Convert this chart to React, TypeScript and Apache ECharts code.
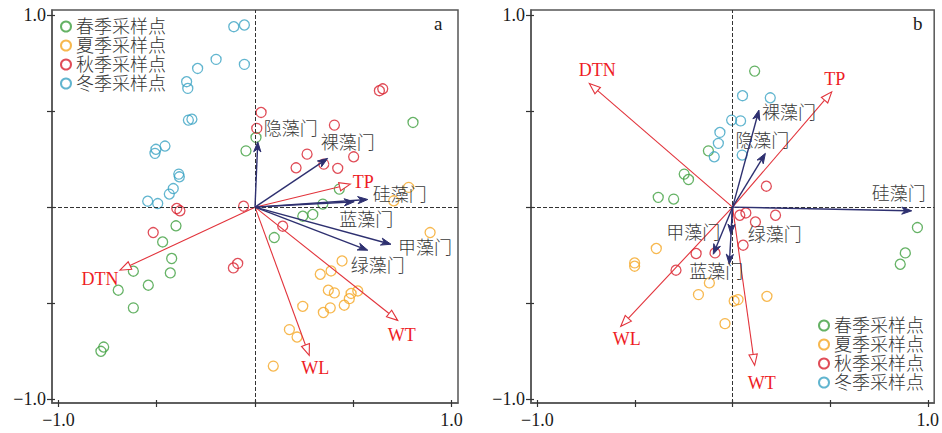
import React, { useEffect, useRef } from "react";
import * as echarts from "echarts";

const seasons = ["春季采样点", "夏季采样点", "秋季采样点", "冬季采样点"];
const seasonColors = ["#3f9f3f", "#f5a623", "#d8202e", "#3aa3c3"];

// Panel a sample scores
const springA = [
  [0.005, 0.363], [-0.046, 0.293], [0.429, 0.094], [0.345, 0.016], [0.804, 0.441],
  [0.243, -0.047], [0.294, -0.038], [0.098, -0.158], [-0.402, -0.097], [-0.47, -0.181],
  [-0.424, -0.267], [-0.431, -0.342], [-0.619, -0.333], [-0.543, -0.406], [-0.696, -0.432],
  [-0.619, -0.524], [-0.77, -0.728], [-0.784, -0.75],
];
const summerA = [
  [0.782, 0.103], [0.706, 0.033], [0.891, -0.132], [0.443, -0.28], [0.332, -0.349],
  [0.387, -0.332], [0.373, -0.432], [0.404, -0.446], [0.489, -0.449], [0.523, -0.436],
  [0.48, -0.476], [0.454, -0.51], [0.383, -0.524], [0.348, -0.548], [0.243, -0.516],
  [0.175, -0.637], [0.214, -0.676], [0.093, -0.827],
];
const autumnA = [
  [-0.398, -0.007], [-0.382, -0.019], [-0.518, -0.132], [-0.11, -0.316], [-0.088, -0.293],
  [0.031, 0.493], [0.009, 0.41], [-0.058, 0.005], [0.404, 0.427], [0.265, 0.276],
  [0.35, 0.224], [0.209, 0.205], [0.421, 0.202], [0.502, 0.262], [0.633, 0.606],
  [0.65, 0.616], [0.141, -0.099],
];
const winterA = [
  [-0.108, 0.939], [-0.054, 0.948], [-0.054, 0.743], [-0.198, 0.769], [-0.292, 0.722],
  [-0.348, 0.653], [-0.342, 0.618], [-0.339, 0.453], [-0.321, 0.458], [-0.509, 0.28],
  [-0.504, 0.301], [-0.458, 0.318], [-0.388, 0.172], [-0.385, 0.158], [-0.416, 0.097],
  [-0.436, 0.068], [-0.546, 0.031], [-0.495, 0.019],
];

// Panel b sample scores
const springB = [
  [0.113, 0.708], [-0.124, 0.293], [-0.248, 0.172], [-0.226, 0.144], [-0.381, 0.051],
  [-0.302, 0.042], [0.947, -0.106], [0.885, -0.238], [0.859, -0.297],
];
const summerB = [
  [-0.391, -0.215], [-0.502, -0.29], [-0.502, -0.307], [-0.119, -0.394], [-0.175, -0.455],
  [0.008, -0.488], [0.028, -0.481], [0.176, -0.464], [-0.039, -0.606],
];
const autumnB = [
  [0.173, 0.109], [0.037, -0.042], [0.068, -0.03], [0.22, -0.042], [0.117, -0.077],
  [0.054, -0.198], [-0.09, -0.238], [-0.187, -0.241], [-0.29, -0.328],
];
const winterB = [
  [0.051, 0.58], [0.193, 0.569], [-0.005, 0.453], [0.041, 0.449], [-0.065, 0.389],
  [-0.073, 0.332], [-0.094, 0.262], [0.049, 0.271],
];

// Species (phyla) arrows
const speciesNames = ["隐藻门", "裸藻门", "硅藻门", "蓝藻门", "甲藻门", "绿藻门"];
const speciesA = [[0.014, 0.34], [0.37, 0.254], [0.574, 0.04], [0.505, 0.028], [0.692, -0.193], [0.574, -0.224]];
const speciesB = [[0.168, 0.28], [0.135, 0.505], [0.918, -0.019], [-0.017, -0.297], [-0.099, -0.245], [-0.009, -0.141]];

// Environmental arrows
const envNames = ["TP", "DTN", "WL", "WT"];
const envA = [[0.485, 0.12], [-0.687, -0.328], [0.276, -0.771], [0.726, -0.589]];
const envB = [[0.508, 0.6], [-0.734, 0.644], [-0.573, -0.62], [0.113, -0.823]];

// Label pixel offsets from arrow tips (layout only)
const speciesOffA = [[33, -13], [20, -15], [32, -4], [12, 18], [34, 4], [10, 16]];
const speciesOffB = [[-3, -12], [30, 3], [-13, -17], [-13, 8], [-20, -21], [44, 1]];
const envOffA = [[13, -2], [-20, 9], [6, 13], [4, 15]];
const envOffB = [[3, -13], [8, -13], [6, 13], [7, 18]];

const tickVals = [-1, -0.5, 0, 0.5, 1];
const labelVals = [-1, 1];

const SERIF = "'Liberation Serif', 'Times New Roman', serif";
const CJK = "'Liberation Serif', 'Noto Sans CJK SC', serif";
const NAVY = "#2e3070";
const ARROW_RED = "#e2333b";
const TEXT_RED = "#ee1c25";

function fmt(v: number) {
  return v < 0 ? "\u2212" + Math.abs(v).toFixed(1) : v.toFixed(1);
}

function arrowRenderer(names: string[], offsets: number[][], kind: "sp" | "env") {
  return (params: any, api: any) => {
    const i = params.dataIndex;
    const o = api.coord([0, 0]);
    const t = api.coord([api.value(0), api.value(1)]);
    const dx = t[0] - o[0];
    const dy = t[1] - o[1];
    const L = Math.hypot(dx, dy) || 1;
    const ux = dx / L;
    const uy = dy / L;
    const hl = kind === "sp" ? 10 : 11;
    const hw = kind === "sp" ? 3.6 : 4.2;
    const bx = t[0] - ux * hl;
    const by = t[1] - uy * hl;
    const px = -uy;
    const py = ux;
    const color = kind === "sp" ? NAVY : ARROW_RED;
    const off = offsets[i] || [0, 0];
    return {
      type: "group",
      children: [
        {
          type: "line",
          shape: { x1: o[0], y1: o[1], x2: kind === "sp" ? t[0] - ux * 4 : bx, y2: kind === "sp" ? t[1] - uy * 4 : by },
          style: { stroke: color, lineWidth: kind === "sp" ? 1.4 : 1.1 },
        },
        {
          type: "polygon",
          shape: {
            points: [
              [t[0], t[1]],
              [bx + px * hw, by + py * hw],
              kind === "sp" ? [t[0] - ux * hl * 0.7, t[1] - uy * hl * 0.7] : [bx, by],
              [bx - px * hw, by - py * hw],
            ],
          },
          style: kind === "sp"
            ? { fill: color, stroke: color, lineWidth: 1 }
            : { fill: "#fff", stroke: color, lineWidth: 1.1 },
        },
        {
          type: "text",
          style: {
            text: names[i],
            x: t[0] + off[0],
            y: t[1] + off[1],
            align: "center",
            verticalAlign: "middle",
            fill: kind === "sp" ? "#3a3a3a" : TEXT_RED,
            fontSize: 18,
            fontFamily: CJK,
            fontWeight: kind === "sp" ? 300 : "normal",
          },
        },
      ],
    };
  };
}

function mainX(gridIndex: number) {
  return {
    gridIndex,
    type: "value",
    min: -1.033,
    max: 1.033,
    position: "bottom",
    axisLine: { show: true, onZero: false, lineStyle: { color: "#555", width: 1.5 } },
    axisTick: { show: true, length: 4, lineStyle: { color: "#333", width: 1.2 }, customValues: tickVals },
    axisLabel: {
      show: true,
      customValues: labelVals,
      formatter: fmt,
      fontFamily: SERIF,
      fontSize: 18,
      color: "#1a1a1a",
      margin: 8,
    },
    splitLine: { show: false },
  };
}
function innerX(gridIndex: number) {
  return {
    gridIndex,
    type: "value",
    min: -1.033,
    max: 1.033,
    position: "bottom",
    axisLine: { show: false, onZero: false },
    axisTick: { show: true, inside: true, length: 3, lineStyle: { color: "#333", width: 1.2 }, customValues: tickVals },
    axisLabel: { show: false },
    splitLine: { show: false },
  };
}
function mainY(gridIndex: number) {
  return {
    gridIndex,
    type: "value",
    min: -1.019,
    max: 1.026,
    position: "left",
    axisLine: { show: true, onZero: false, lineStyle: { color: "#555", width: 1.5 } },
    axisTick: { show: true, length: 5, lineStyle: { color: "#333", width: 1.2 }, customValues: tickVals },
    axisLabel: {
      show: true,
      customValues: labelVals,
      formatter: fmt,
      fontFamily: SERIF,
      fontSize: 18,
      color: "#1a1a1a",
      margin: 6,
    },
    splitLine: { show: false },
  };
}
function innerY(gridIndex: number) {
  return {
    gridIndex,
    type: "value",
    min: -1.019,
    max: 1.026,
    position: "left",
    axisLine: { show: false, onZero: false },
    axisTick: { show: true, inside: true, length: 3, lineStyle: { color: "#333", width: 1.2 }, customValues: tickVals },
    axisLabel: { show: false },
    splitLine: { show: false },
  };
}

function scatterSeries(data: number[][], si: number, axis: number) {
  return {
    type: "scatter",
    name: seasons[si],
    xAxisIndex: axis,
    yAxisIndex: axis,
    data,
    symbol: "circle",
    symbolSize: 10,
    itemStyle: { color: "rgba(0,0,0,0)", borderColor: seasonColors[si], borderWidth: 1.3 },
    z: 3,
  };
}

function zeroLines(axis: number) {
  return {
    type: "scatter",
    xAxisIndex: axis,
    yAxisIndex: axis,
    data: [],
    silent: true,
    z: 1,
    markLine: {
      silent: true,
      symbol: ["none", "none"],
      label: { show: false },
      lineStyle: { type: [4, 2], color: "#333", width: 1 },
      data: [{ xAxis: 0 }, { yAxis: 0 }],
    },
  };
}

function arrowSeries(data: number[][], names: string[], offs: number[][], kind: "sp" | "env", axis: number) {
  return {
    type: "custom",
    xAxisIndex: axis,
    yAxisIndex: axis,
    data,
    clip: false,
    silent: true,
    z: kind === "sp" ? 5 : 4,
    renderItem: arrowRenderer(names, offs, kind),
  };
}

function legendAt(left: number, top: number) {
  return {
    data: seasons,
    orient: "vertical",
    left,
    top,
    padding: 0,
    itemWidth: 10,
    itemHeight: 10,
    itemGap: 0,
    selectedMode: false,
    icon: "circle",
    textStyle: { fontSize: 18, lineHeight: 19, color: "#333", fontFamily: CJK, fontWeight: 300 },
  };
}

export default function App() {
  const ref = useRef<HTMLDivElement>(null);
  useEffect(() => {
    if (!ref.current) return;
    const chart = echarts.init(ref.current, undefined, { renderer: "svg" });
    chart.setOption({
      animation: false,
      backgroundColor: "#fff",
      grid: [
        { left: 52, top: 10, width: 406, height: 393, show: true, borderColor: "#555", borderWidth: 1.5, backgroundColor: "rgba(0,0,0,0)" },
        { left: 531, top: 10, width: 405, height: 393, show: true, borderColor: "#555", borderWidth: 1.5, backgroundColor: "rgba(0,0,0,0)" },
      ],
      xAxis: [mainX(0), innerX(0), mainX(1), innerX(1)],
      yAxis: [mainY(0), innerY(0), mainY(1), innerY(1)],
      legend: [legendAt(60, 17), legendAt(818, 316)],
      graphic: [
        { type: "text", left: 434, top: 14, style: { text: "a", fontSize: 19, fontFamily: SERIF, fill: "#1a1a1a" } },
        { type: "text", left: 913, top: 14, style: { text: "b", fontSize: 19, fontFamily: SERIF, fill: "#1a1a1a" } },
      ],
      series: [
        zeroLines(0),
        zeroLines(2),
        scatterSeries(springA, 0, 0),
        scatterSeries(summerA, 1, 0),
        scatterSeries(autumnA, 2, 0),
        scatterSeries(winterA, 3, 0),
        scatterSeries(springB, 0, 2),
        scatterSeries(summerB, 1, 2),
        scatterSeries(autumnB, 2, 2),
        scatterSeries(winterB, 3, 2),
        arrowSeries(envA, envNames, envOffA, "env", 0),
        arrowSeries(speciesA, speciesNames, speciesOffA, "sp", 0),
        arrowSeries(envB, envNames, envOffB, "env", 2),
        arrowSeries(speciesB, speciesNames, speciesOffB, "sp", 2),
      ],
    });
    return () => chart.dispose();
  }, []);
  return (
    <div
      ref={ref}
      style={{ position: "fixed", left: 0, top: 0, width: 942, height: 433, background: "#fff" }}
    />
  );
}
